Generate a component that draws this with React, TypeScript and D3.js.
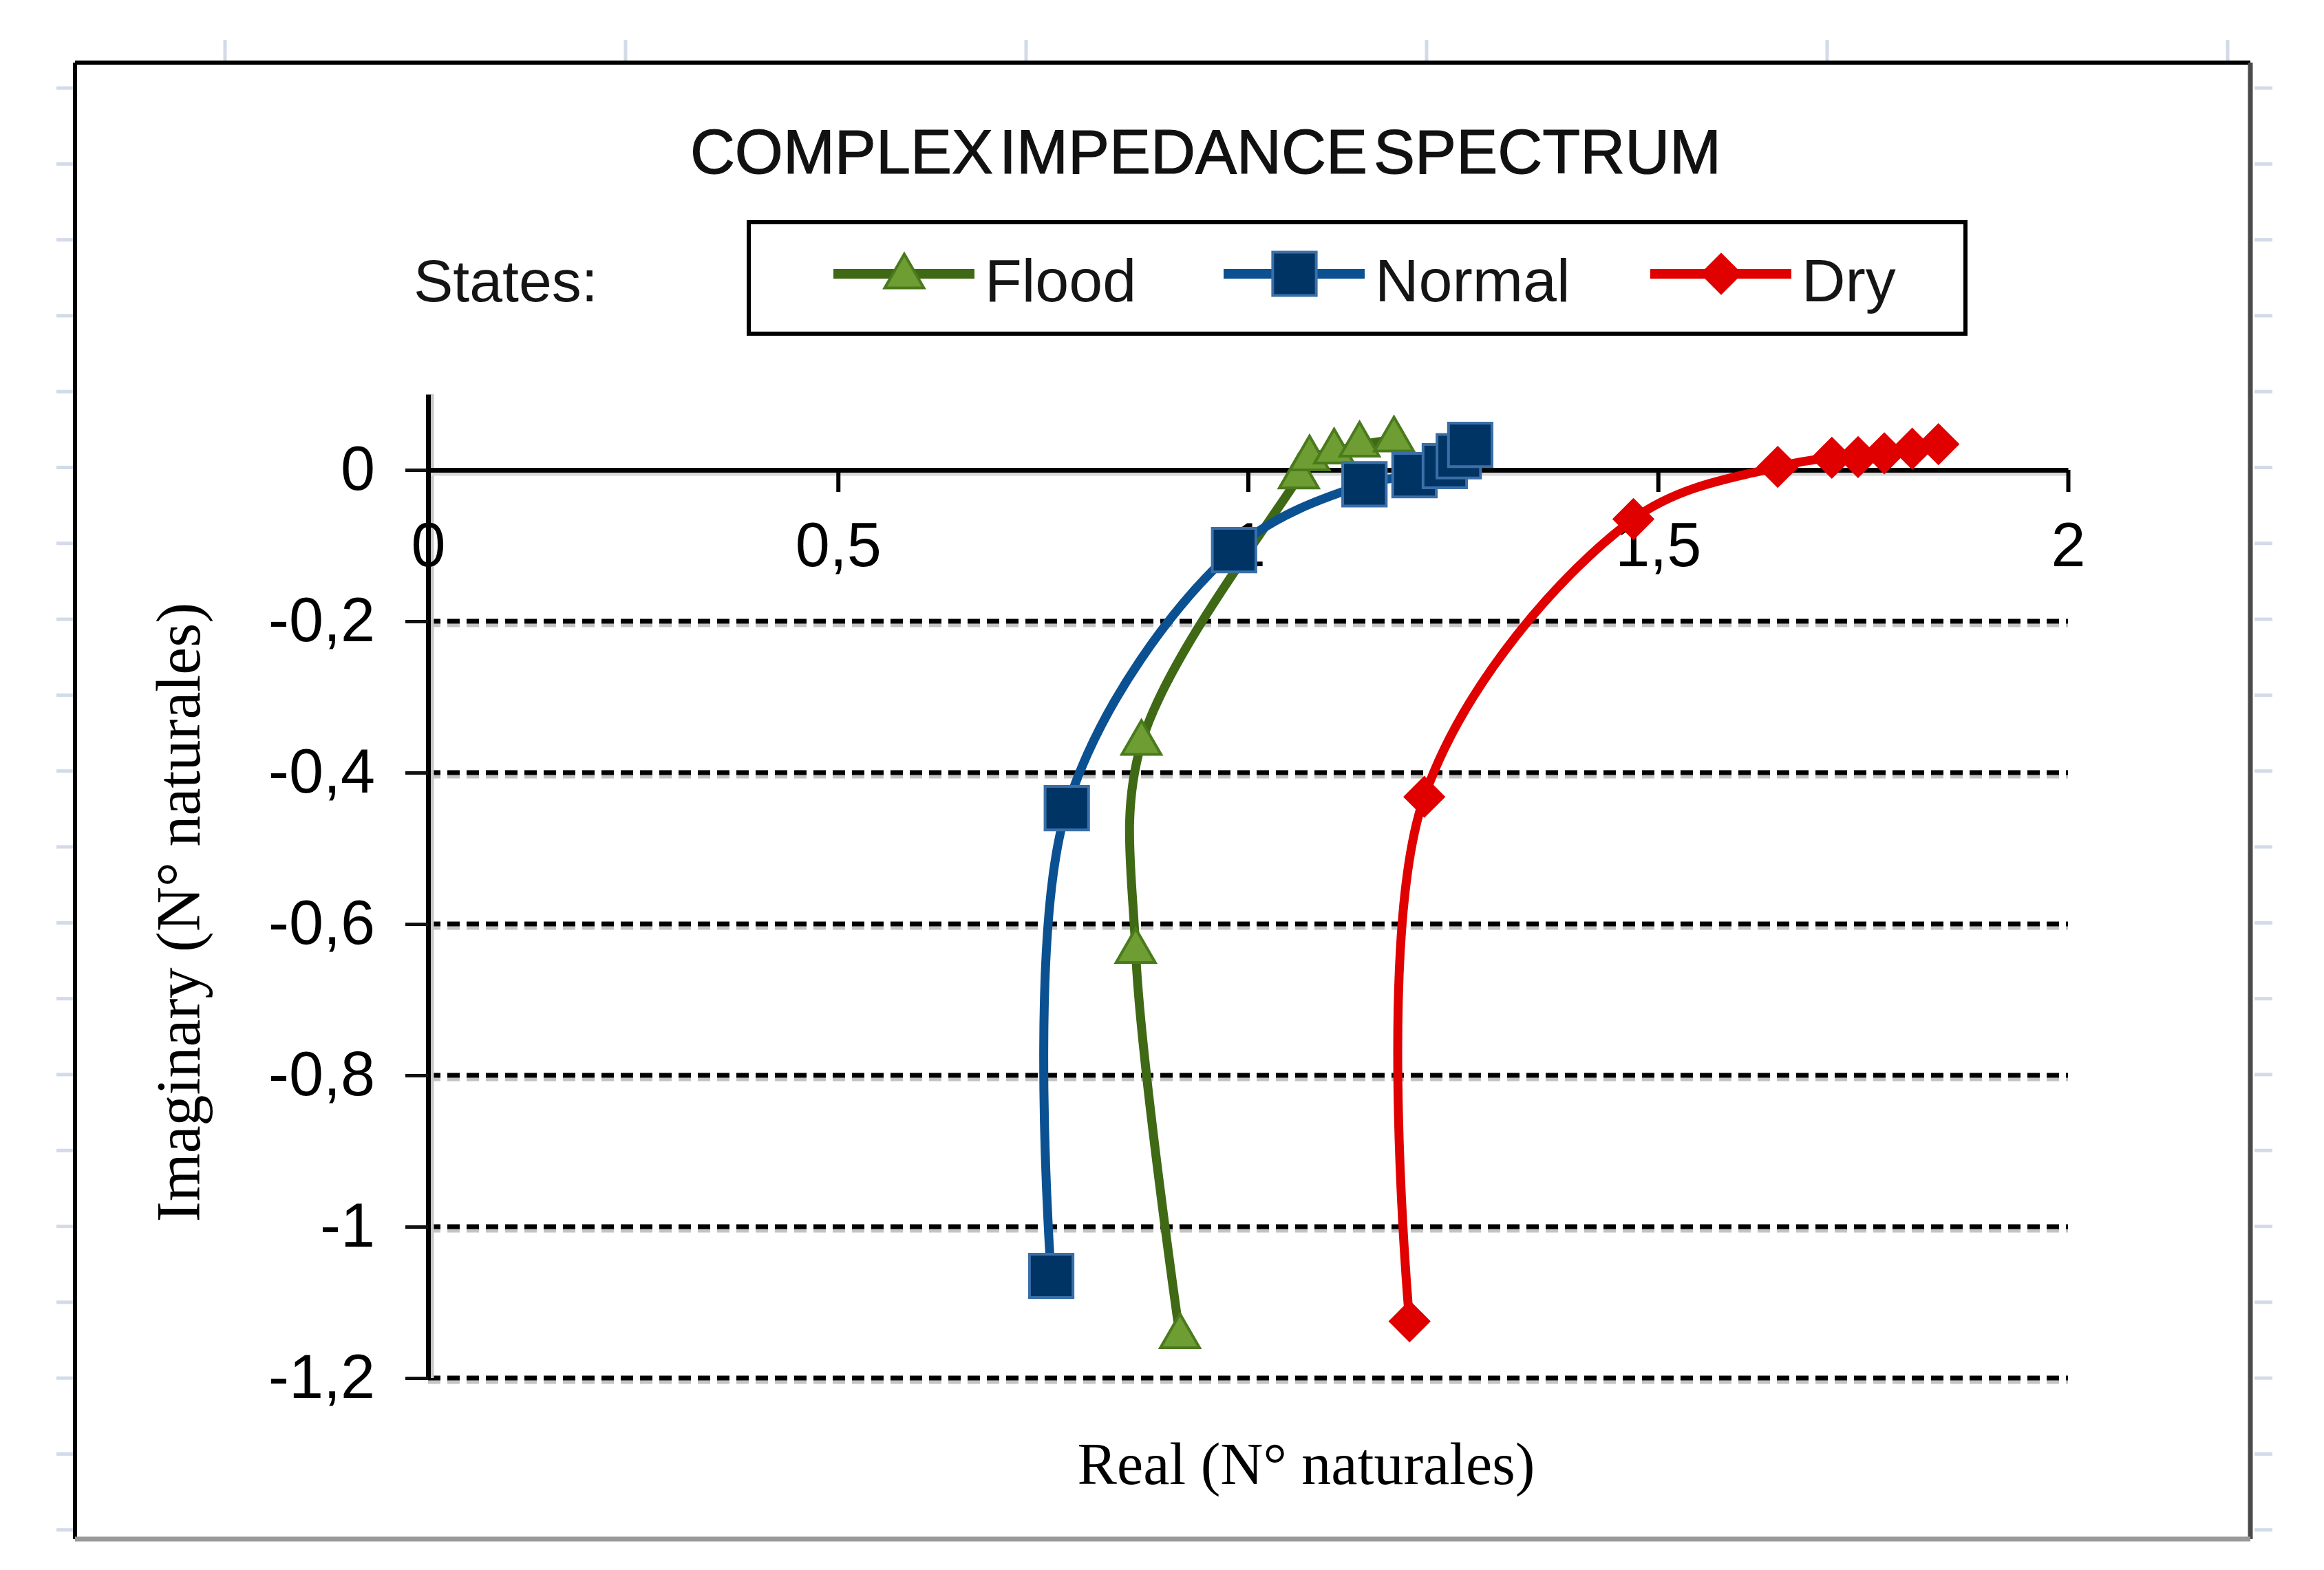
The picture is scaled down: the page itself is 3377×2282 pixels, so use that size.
import {
  axisBottom,
  axisLeft,
  curveCatmullRom,
  line,
  range,
  scaleLinear,
  select,
  symbol,
  symbolSquare,
  symbolTriangle,
} from "d3";
import { useEffect, useRef } from "react";

const WIDTH = 3377;
const HEIGHT = 2282;

const X_TICKS = [0, 0.5, 1, 1.5, 2];
const X_TICK_LABELS = ["0", "0,5", "1", "1,5", "2"];
const Y_TICKS = [0, -0.2, -0.4, -0.6, -0.8, -1, -1.2];
const Y_TICK_LABELS = ["0", "-0,2", "-0,4", "-0,6", "-0,8", "-1", "-1,2"];

const FLOOD_RE = [0.917, 0.863, 0.87, 1.062, 1.075, 1.105, 1.136, 1.178];
const FLOOD_IM = [-1.145, -0.636, -0.361, -0.009, 0.015, 0.024, 0.033, 0.04];

const NORMAL_RE = [0.76, 0.779, 0.983, 1.142, 1.203, 1.24, 1.257, 1.271];
const NORMAL_IM = [-1.065, -0.447, -0.106, -0.019, -0.007, 0.005, 0.018, 0.033];

const DRY_RE = [1.197, 1.215, 1.47, 1.646, 1.712, 1.744, 1.776, 1.81, 1.842];
const DRY_IM = [-1.125, -0.432, -0.065, 0.004, 0.016, 0.017, 0.022, 0.028, 0.034];

type Marker = "triangle" | "square" | "diamond";

interface Series {
  name: string;
  re: number[];
  im: number[];
  lineColor: string;
  fill: string;
  stroke: string;
  marker: Marker;
}

const SERIES: Series[] = [
  { name: "Flood", re: FLOOD_RE, im: FLOOD_IM, lineColor: "#3f6914", fill: "#6e9d34", stroke: "#4a7a1c", marker: "triangle" },
  { name: "Normal", re: NORMAL_RE, im: NORMAL_IM, lineColor: "#0b5192", fill: "#003464", stroke: "#3a6fa8", marker: "square" },
  { name: "Dry", re: DRY_RE, im: DRY_IM, lineColor: "#e00000", fill: "#e00000", stroke: "#e00000", marker: "diamond" },
];

const SANS = "'Liberation Sans', Arial, sans-serif";
const SERIF = "'Liberation Serif', 'Times New Roman', serif";

function markerPath(kind: Marker) {
  if (kind === "triangle") return symbol(symbolTriangle, 1400)() ?? "";
  if (kind === "square") return symbol(symbolSquare, 4000)() ?? "";
  return symbol(symbolSquare, 1550)() ?? "";
}

export default function App() {
  const svgRef = useRef<SVGSVGElement | null>(null);

  useEffect(() => {
    if (!svgRef.current) return;
    const svg = select(svgRef.current);
    svg.selectAll("*").remove();

    svg.append("rect").attr("width", WIDTH).attr("height", HEIGHT).attr("fill", "#fff");

    // faint spreadsheet cell lines peeking around the chart frame
    const sheet = svg.append("g").attr("stroke", "#d3dae8").attr("stroke-width", 5);
    sheet
      .selectAll("line.col")
      .data(range(6).map((i) => 327 + i * 582))
      .join("line")
      .attr("x1", (d) => d)
      .attr("x2", (d) => d)
      .attr("y1", 58)
      .attr("y2", 88);
    const rows = range(20).map((i) => 128 + i * 110.3).filter((d) => d < 2230);
    sheet
      .selectAll("line.left")
      .data(rows)
      .join("line")
      .attr("x1", 82)
      .attr("x2", 106)
      .attr("y1", (d) => d)
      .attr("y2", (d) => d);
    sheet
      .selectAll("line.right")
      .data(rows)
      .join("line")
      .attr("x1", 3276)
      .attr("x2", 3302)
      .attr("y1", (d) => d)
      .attr("y2", (d) => d);

    // chart frame
    const frame = { left: 109, top: 91, right: 3270, bottom: 2237 };
    svg
      .append("line")
      .attr("x1", frame.left)
      .attr("x2", frame.right)
      .attr("y1", frame.top)
      .attr("y2", frame.top)
      .attr("stroke", "#000")
      .attr("stroke-width", 6);
    svg
      .append("line")
      .attr("x1", frame.left)
      .attr("x2", frame.left)
      .attr("y1", frame.top)
      .attr("y2", frame.bottom)
      .attr("stroke", "#000")
      .attr("stroke-width", 6);
    svg
      .append("line")
      .attr("x1", frame.right)
      .attr("x2", frame.right)
      .attr("y1", frame.top)
      .attr("y2", frame.bottom)
      .attr("stroke", "#4a4a4a")
      .attr("stroke-width", 7);
    svg
      .append("line")
      .attr("x1", frame.left)
      .attr("x2", frame.right)
      .attr("y1", frame.bottom)
      .attr("y2", frame.bottom)
      .attr("stroke", "#9a9a9a")
      .attr("stroke-width", 7);

    // title
    svg
      .append("text")
      .attr("x", 1752)
      .attr("y", 252)
      .attr("text-anchor", "middle")
      .attr("font-family", SANS)
      .attr("font-size", 90)
      .attr("word-spacing", -16)
      .attr("fill", "#111")
      .attr("stroke", "#111")
      .attr("stroke-width", 1.2)
      .text("COMPLEX IMPEDANCE SPECTRUM");

    // legend
    svg
      .append("text")
      .attr("x", 601)
      .attr("y", 438)
      .attr("font-family", SANS)
      .attr("font-size", 86)
      .attr("fill", "#151515")
      .text("States:");
    svg
      .append("rect")
      .attr("x", 1088)
      .attr("y", 323)
      .attr("width", 1768)
      .attr("height", 162)
      .attr("fill", "#fff")
      .attr("stroke", "#000")
      .attr("stroke-width", 6);
    const legendX = [1211, 1778, 2398];
    const legendItem = svg
      .append("g")
      .selectAll("g")
      .data(SERIES)
      .join("g")
      .attr("transform", (_, i) => `translate(${legendX[i]},398)`);
    legendItem
      .append("line")
      .attr("x1", 0)
      .attr("x2", 205)
      .attr("stroke", (d) => d.lineColor)
      .attr("stroke-width", 14);
    legendItem
      .append("path")
      .attr("d", (d) => markerPath(d.marker))
      .attr("transform", (d) => `translate(103,${d.marker === "triangle" ? 4 : 0})${d.marker === "diamond" ? " rotate(45)" : ""}`)
      .attr("fill", (d) => d.fill)
      .attr("stroke", (d) => d.stroke)
      .attr("stroke-width", 4);
    legendItem
      .append("text")
      .attr("x", 220)
      .attr("y", 40)
      .attr("font-family", SANS)
      .attr("font-size", 88)
      .attr("fill", "#151515")
      .text((d) => d.name);

    // scales
    const x = scaleLinear().domain([0, 2]).range([622, 3005]);
    const y = scaleLinear().domain([-1.2, 0.1]).range([2003, 573]);

    // dashed gridlines with their soft shadow
    const gridValues = Y_TICKS.filter((v) => v !== 0);
    const grid = svg.append("g");
    grid
      .selectAll("line.shadow")
      .data(gridValues)
      .join("line")
      .attr("x1", x(0))
      .attr("x2", x(2))
      .attr("y1", (d) => y(d) + 6)
      .attr("y2", (d) => y(d) + 6)
      .attr("stroke", "#c4c4c4")
      .attr("stroke-width", 5)
      .attr("stroke-dasharray", "18 10");
    grid
      .selectAll("line.dash")
      .data(gridValues)
      .join("line")
      .attr("x1", x(0))
      .attr("x2", x(2))
      .attr("y1", (d) => y(d))
      .attr("y2", (d) => y(d))
      .attr("stroke", "#000")
      .attr("stroke-width", 7)
      .attr("stroke-dasharray", "18 10");

    // axis shadows
    svg
      .append("line")
      .attr("x1", x(0) + 6)
      .attr("x2", x(0) + 6)
      .attr("y1", y(0.1))
      .attr("y2", y(-1.2))
      .attr("stroke", "#c8c8c8")
      .attr("stroke-width", 5);
    svg
      .append("line")
      .attr("x1", x(0))
      .attr("x2", x(2))
      .attr("y1", y(0) + 6)
      .attr("y2", y(0) + 6)
      .attr("stroke", "#d8d8d8")
      .attr("stroke-width", 5);

    // y axis
    const yAxis = axisLeft(y)
      .tickValues(Y_TICKS)
      .tickFormat((_, i) => Y_TICK_LABELS[i])
      .tickSize(33)
      .tickSizeOuter(0)
      .tickPadding(44);
    const yAxisGroup = svg.append("g").attr("transform", `translate(${x(0)},0)`).call(yAxis);
    yAxisGroup.select(".domain").attr("stroke", "#000").attr("stroke-width", 7);
    yAxisGroup.selectAll(".tick line").attr("stroke", "#111").attr("stroke-width", 5);
    yAxisGroup
      .selectAll(".tick text")
      .attr("font-family", SANS)
      .attr("font-size", 90)
      .attr("fill", "#000");

    // x axis along imaginary = 0
    const xAxis = axisBottom(x)
      .tickValues(X_TICKS)
      .tickFormat((_, i) => X_TICK_LABELS[i])
      .tickSize(32)
      .tickSizeOuter(0)
      .tickPadding(44);
    const xAxisGroup = svg.append("g").attr("transform", `translate(0,${y(0)})`).call(xAxis);
    xAxisGroup.select(".domain").attr("stroke", "#000").attr("stroke-width", 7);
    xAxisGroup.selectAll(".tick line").attr("stroke", "#000").attr("stroke-width", 6);
    xAxisGroup
      .selectAll(".tick text")
      .attr("font-family", SANS)
      .attr("font-size", 90)
      .attr("fill", "#000");

    // axis titles
    svg
      .append("text")
      .attr("x", 1898)
      .attr("y", 2157)
      .attr("text-anchor", "middle")
      .attr("font-family", SERIF)
      .attr("font-size", 86)
      .attr("fill", "#000")
      .text("Real (N° naturales)");
    svg
      .append("text")
      .attr("transform", "translate(290,1326) rotate(-90)")
      .attr("text-anchor", "middle")
      .attr("font-family", SERIF)
      .attr("font-size", 90)
      .attr("fill", "#000")
      .text("Imaginary (N° naturales)");

    // series: smoothed line then markers
    const path = line<[number, number]>()
      .x((d) => x(d[0]))
      .y((d) => y(d[1]))
      .curve(curveCatmullRom.alpha(0.5));
    const plot = svg.append("g");
    SERIES.forEach((s) => {
      const pts = s.re.map((r, i) => [r, s.im[i]] as [number, number]);
      const g = plot.append("g");
      g.append("path")
        .attr("d", path(pts) ?? "")
        .attr("fill", "none")
        .attr("stroke", s.lineColor)
        .attr("stroke-width", 13)
        .attr("stroke-linejoin", "round");
      g.selectAll("path.marker")
        .data(pts)
        .join("path")
        .attr("class", "marker")
        .attr("d", markerPath(s.marker))
        .attr(
          "transform",
          (d) => `translate(${x(d[0])},${y(d[1])})${s.marker === "diamond" ? " rotate(45)" : ""}`,
        )
        .attr("fill", s.fill)
        .attr("stroke", s.stroke)
        .attr("stroke-width", 4);
    });
  }, []);

  return (
    <svg
      ref={svgRef}
      width={WIDTH}
      height={HEIGHT}
      viewBox={`0 0 ${WIDTH} ${HEIGHT}`}
      style={{ position: "absolute", left: 0, top: 0 }}
      role="img"
      aria-label="Complex impedance spectrum"
    />
  );
}
